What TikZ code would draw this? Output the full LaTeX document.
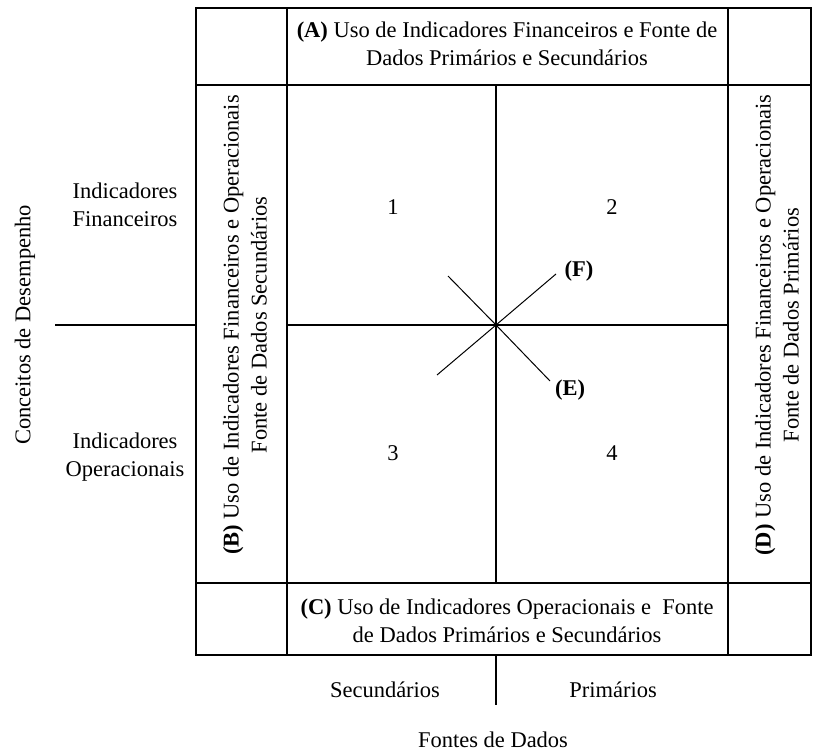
\documentclass[tikz,border=0pt]{standalone}
\usepackage{fontspec}
\setmainfont{Liberation Serif}
\begin{document}
\begin{tikzpicture}[x=1pt,y=-1pt,
  grid/.style={line width=1.6pt},
  diag/.style={line width=1pt},
  lbl/.style={font=\fontsize{22.5}{28}\selectfont, align=center, inner sep=0pt},
  vlbl/.style={lbl, rotate=90}]
\useasboundingbox (0,0) rectangle (814,751);

% frame and table rules
\draw[grid] (196,8) rectangle (811,655);
\draw[grid] (196,85) -- (811,85);
\draw[grid] (196,583) -- (811,583);
\draw[grid] (287,8) -- (287,655);
\draw[grid] (728,8) -- (728,655);
% central quadrant axes
\coordinate (c) at (496,325);
\draw[grid] (496,85) -- (496,583);
\draw[grid] (287,325) -- (728,325);
% left and bottom axis rules
\draw[grid] (55,325) -- (196,325);
\draw[grid] (496,655) -- (496,705);
% diagonals
\coordinate (f1) at (437,375);
\coordinate (f2) at (556,274);
\coordinate (e1) at (448,276);
\coordinate (e2) at (550,381);
\draw[diag] (f1) -- (c) -- (f2);
\draw[diag] (e1) -- (c) -- (e2);

% labels
\node[lbl] (A) at (507,44) {\textbf{(A)} Uso de Indicadores Financeiros e Fonte de\\Dados Primários e Secundários};
\node[lbl] (C) at (507,621) {\textbf{(C)} Uso de Indicadores Operacionais e \ Fonte\\de Dados Primários e Secundários};
\node[vlbl] (B) at (245,325) {\textbf{(B)} Uso de Indicadores Financeiros e Operacionais\\Fonte de Dados Secundários};
\node[vlbl] (D) at (777,325) {\textbf{(D)} Uso de Indicadores Financeiros e Operacionais\\Fonte de Dados Primários};

\node[lbl] (q1) at (393,207) {1};
\node[lbl] (q2) at (612,207) {2};
\node[lbl] (q3) at (393,453) {3};
\node[lbl] (q4) at (612,453) {4};

\node[lbl] (F) at (579,271) {\textbf{(F)}};
\node[lbl] (E) at (570,390) {\textbf{(E)}};

\node[vlbl] (cd) at (25,325) {Conceitos de Desempenho};
\node[lbl] (fin) at (125,205) {Indicadores\\Financeiros};
\node[lbl] (ope) at (125,457) {Indicadores\\Operacionais};

\node[lbl] (sec) at (385,690) {Secundários};
\node[lbl] (pri) at (613,690) {Primários};
\node[lbl] (fd) at (493,740) {Fontes de Dados};
\end{tikzpicture}
\end{document}
